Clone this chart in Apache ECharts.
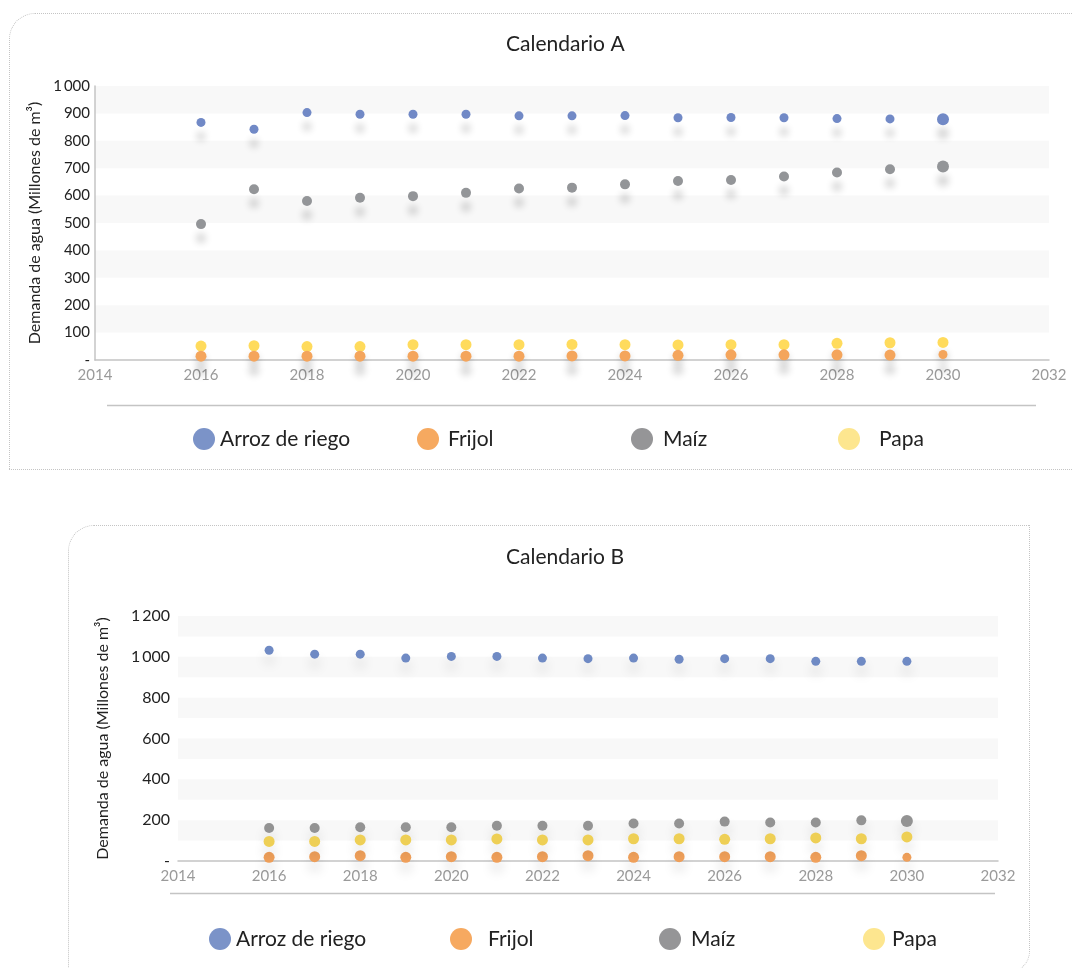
<!DOCTYPE html>
<html>
<head>
<meta charset="utf-8">
<script src="https://cdn.jsdelivr.net/npm/echarts@6/dist/echarts.min.js"></script>
<style>
  html, body { margin: 0; padding: 0; background: #fff; overflow: hidden; }
  #wrap { position: relative; width: 1072px; height: 968px; }
  .box { position: absolute; border: 1.5px dotted #c4c4c4; box-sizing: border-box; }
  #boxA { left: 9px; top: 13px; width: 1075px; height: 457px; border-radius: 26px 0 0 0; }
  #boxB { left: 68px; top: 525px; width: 962px; height: 448px; border-radius: 26px 0 22px 0; }
  #chart { position: absolute; left: 0; top: 0; width: 1072px; height: 968px; }
</style>
</head>
<body>
<div id="wrap">
  <div class="box" id="boxA"></div>
  <div class="box" id="boxB"></div>
  <div id="chart"></div>
</div>
<script>
// ---- Data ----
const years = [2016, 2017, 2018, 2019, 2020, 2021, 2022, 2023, 2024, 2025, 2026, 2027, 2028, 2029, 2030];
const seriesNames = ['Arroz de riego', 'Frijol', 'Maíz', 'Papa'];

// Calendario A
const arrozA  = [867, 842, 903, 897, 897, 897, 891, 891, 892, 884, 885, 884, 881, 880, 879];
const frijolA = [14, 14, 14, 14, 14, 14, 14, 15, 15, 17, 19, 19, 19, 18, 20];
const maizA   = [496, 623, 580, 592, 598, 610, 626, 629, 641, 653, 657, 670, 684, 696, 706];
const papaA   = [51, 52, 49, 49, 56, 56, 56, 57, 56, 55, 56, 56, 61, 63, 64];

// Calendario B
const arrozB  = [1032, 1013, 1013, 994, 1002, 1002, 994, 991, 994, 988, 991, 991, 978, 978, 978];
const frijolB = [18, 21, 26, 18, 21, 18, 21, 26, 18, 21, 21, 21, 18, 26, 18];
const maizB   = [162, 162, 165, 165, 165, 173, 173, 173, 184, 184, 193, 189, 189, 199, 196];
const papaB   = [96, 96, 103, 103, 103, 108, 103, 103, 109, 109, 106, 109, 113, 109, 118];

const xTicks = [2014, 2016, 2018, 2020, 2022, 2024, 2026, 2028, 2030, 2032];
const yTicksA = [0, 100, 200, 300, 400, 500, 600, 700, 800, 900, 1000];
const yTicksB = [0, 200, 400, 600, 800, 1000, 1200];

// ---- Styles ----
const FONT = 'Lato, "Open Sans", sans-serif';
const pointColorsA = ['#7189c6', '#f4a55c', '#939598', '#ffdb5c'];
const pointColorsB = ['#6f8ac4', '#f0a05a', '#939393', '#eecf55'];
const legendColors = ['#7b93c8', '#f6a960', '#959597', '#fde68f'];
const baseSizes = [9, 11, 10, 11];
const lastSizesA = [12, 9, 12, 11];
const lastSizesB = [9, 9, 12, 11];

function fmtY(v) {
  if (v === 0) return '-';
  const s = String(v);
  return s.length > 3 ? s.slice(0, s.length - 3) + '\u2009' + s.slice(-3) : s;
}
function pairs(vals) { return years.map((y, i) => [y, vals[i]]); }

const dataA = [arrozA, frijolA, maizA, papaA];
const dataB = [arrozB, frijolB, maizB, papaB];

const series = [];
seriesNames.forEach((name, k) => {
  series.push({
    name: name, type: 'scatter', xAxisIndex: 0, yAxisIndex: 0,
    data: pairs(dataA[k]),
    symbolSize: (v, p) => p.dataIndex === years.length - 1 ? lastSizesA[k] : baseSizes[k],
    itemStyle: { color: pointColorsA[k], opacity: 1, shadowBlur: 7, shadowColor: 'rgba(0,0,0,0.16)', shadowOffsetY: 14 },
    z: 3 + (k === 1 ? 1 : 0)
  });
});
seriesNames.forEach((name, k) => {
  series.push({
    name: name, type: 'scatter', xAxisIndex: 1, yAxisIndex: 1,
    data: pairs(dataB[k]),
    symbolSize: (v, p) => p.dataIndex === years.length - 1 ? lastSizesB[k] : baseSizes[k],
    itemStyle: { color: pointColorsB[k], opacity: 1, shadowBlur: 12, shadowColor: 'rgba(0,0,0,0.13)', shadowOffsetY: 9 }
  });
});

// legends: one per item for exact placement
const legA = [{l: 193, gap: 0}, {l: 417, gap: 4}, {l: 631, gap: 5}, {l: 838, gap: 14}];
const legB = [{l: 209, gap: 0}, {l: 450, gap: 11}, {l: 659, gap: 5}, {l: 863, gap: 2}];
const legends = [];
function addLegends(arr, top) {
  arr.forEach((o, k) => {
    legends.push({
      data: [seriesNames[k]], left: o.l, top: top, padding: 0, icon: 'circle',
      itemWidth: 22, itemHeight: 24, selectedMode: false,
      textStyle: { fontFamily: FONT, fontSize: 21, color: '#222', padding: [2, 0, 0, o.gap] },
      itemStyle: { color: legendColors[k], shadowBlur: 0, shadowOffsetY: 0 }
    });
  });
}
addLegends(legA, 428);
addLegends(legB, 928);

function xAxis(gridIndex) {
  return {
    type: 'value', gridIndex: gridIndex, min: xTicks[0], max: xTicks[xTicks.length - 1], interval: 2,
    axisLine: { show: true, lineStyle: { color: '#c4c4c4', width: 1.5 } },
    axisTick: { show: false }, splitLine: { show: false },
    axisLabel: { color: '#9a9a9a', fontFamily: FONT, fontSize: 15, margin: 8, formatter: v => String(v) }
  };
}

const axisName = 'Demanda de agua (Millones de m³)';

const option = {
  animation: false,
  title: [
    { text: 'Calendario A', left: 506, top: 34, padding: 0,
      textStyle: { fontFamily: FONT, fontSize: 21, fontWeight: 'normal', color: '#222' } },
    { text: 'Calendario B', left: 506, top: 547, padding: 0,
      textStyle: { fontFamily: FONT, fontSize: 21, fontWeight: 'normal', color: '#222' } }
  ],
  grid: [
    { left: 95, right: 23, top: 86, bottom: 608 },
    { left: 178, right: 74, top: 616, bottom: 107 }
  ],
  xAxis: [xAxis(0), xAxis(1)],
  yAxis: [
    {
      type: 'value', gridIndex: 0, min: yTicksA[0], max: yTicksA[yTicksA.length - 1], interval: 100,
      name: axisName, nameLocation: 'middle', nameGap: 52, nameRotate: 90,
      nameTextStyle: { fontFamily: FONT, fontSize: 16, color: '#222' },
      axisLine: { show: true, lineStyle: { color: '#c4c4c4', width: 1.5 } },
      axisTick: { show: false }, splitLine: { show: false },
      splitArea: { show: true, areaStyle: { color: ['rgba(255,255,255,0)', '#f8f8f8'] } },
      axisLabel: { color: '#222', fontFamily: FONT, fontSize: 15, margin: 5, formatter: fmtY }
    },
    {
      type: 'value', gridIndex: 1, min: yTicksB[0], max: yTicksB[yTicksB.length - 1], interval: 100,
      name: axisName, nameLocation: 'middle', nameGap: 67, nameRotate: 90,
      nameTextStyle: { fontFamily: FONT, fontSize: 16, color: '#222' },
      axisLine: { show: false }, axisTick: { show: false }, splitLine: { show: false },
      splitArea: { show: true, areaStyle: { color: ['rgba(255,255,255,0)', '#f8f8f8'] } },
      axisLabel: { color: '#222', fontFamily: FONT, fontSize: 16, margin: 8,
        formatter: v => (yTicksB.indexOf(v) >= 0 ? fmtY(v) : '') }
    }
  ],
  legend: legends,
  graphic: [
    { type: 'line', shape: { x1: 107, y1: 405.5, x2: 1036, y2: 405.5 }, style: { stroke: '#c4c4c4', lineWidth: 1.5 } },
    { type: 'line', shape: { x1: 170, y1: 893.5, x2: 995, y2: 893.5 }, style: { stroke: '#c4c4c4', lineWidth: 1.5 } }
  ],
  series: series
};

const chart = echarts.init(document.getElementById('chart'), null, { renderer: 'canvas' });
chart.setOption(option);
</script>
</body>
</html>
